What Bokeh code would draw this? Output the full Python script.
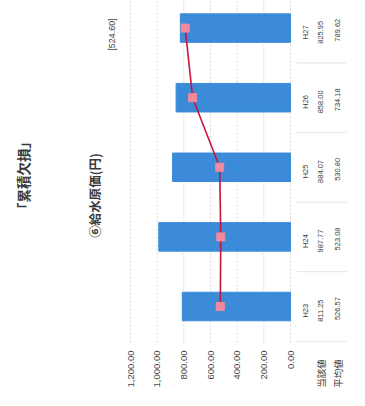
import math
import numpy as np
from bokeh.plotting import figure
from bokeh.models import Range1d
from bokeh.core.properties import value
from bokeh.embed import file_html
from bokeh.resources import INLINE

categories = ["H23", "H24", "H25", "H26", "H27"]
own_values = [811.25, 987.77, 884.07, 858.00, 825.95]   # 当該値
avg_values = [526.57, 523.08, 530.80, 734.18, 789.62]   # 平均値
value_ticks = [0, 200, 400, 600, 800, 1000, 1200]
row_headers = ["当該値", "平均値"]
main_title = "「累積欠損」"
chart_title = "⑥給水原価(円)"
reference_note = "[524.60]"

W, H = 365, 406
# layout: value 0 at pixel x=290, 1200 at x=130; category 0 at pixel y=306, 69.6 px apart
X0, KX = 290.0, 160.0 / 1200.0
Y0, KY = 306.0, 69.6


def vx(px):
    return (X0 - px) / KX


def vy(py):
    return (Y0 - py) / KY


pos = np.arange(len(categories))

p = figure(width=W, height=H, output_backend="svg", toolbar_location=None,
           x_range=Range1d(vx(0), vx(W)), y_range=Range1d(vy(H), vy(0)),
           min_border=0, x_axis_location=None, y_axis_location=None,
           outline_line_color=None,
           background_fill_color="white", border_fill_color="white")
p.grid.visible = False

ROT = math.pi / 2
DARK = "#3a3a3a"

# faint value grid
p.segment(x0=value_ticks, x1=value_ticks, y0=vy(0), y1=vy(343),
          line_color="#d6d6d6", line_width=1, line_dash="2 2")

BAR = "#3b8bd9"
p.hbar(y=pos, left=0, right=own_values, height=0.41, fill_color=BAR, line_color=BAR)
p.line(x=avg_values, y=pos, line_color="#c8143c", line_width=1.6)
p.scatter(x=avg_values, y=pos, marker="square", size=8,
          fill_color="#f28a9e", line_color="#f28a9e")

# value tick labels (rotated, hanging below the plot area)
p.text(x=value_ticks, y=[vy(350)] * len(value_ticks),
       text=[f"{t:,.2f}" for t in value_ticks], angle=ROT,
       text_align="right", text_baseline="middle",
       text_font=value("Liberation Sans"), text_font_size=value("9.5px"),
       text_color="#444444")

# data table (rotated: to the right of the plot area)
cell_font = dict(angle=ROT, text_align="center", text_baseline="middle",
                 text_font=value("Liberation Sans"),
                 text_font_size=value("7.5px"), text_color=DARK)
p.text(x=[vx(305)] * len(pos), y=pos - 0.06, text=categories, **cell_font)
p.text(x=[vx(320)] * len(pos), y=pos - 0.06,
       text=[f"{v:.2f}" for v in own_values], **cell_font)
p.text(x=[vx(337)] * len(pos), y=pos - 0.03,
       text=[f"{v:.2f}" for v in avg_values], **cell_font)

# table separators (faint)
p.segment(x0=[vx(296)] * (len(pos) + 1), x1=[vx(346)] * (len(pos) + 1),
          y0=np.arange(len(pos) + 1) - 0.5, y1=np.arange(len(pos) + 1) - 0.5,
          line_color="#e4e4e4", line_width=1)

p.text(x=[vx(320), vx(337)], y=[vy(373)] * 2, text=row_headers, angle=ROT,
       text_align="center", text_baseline="middle",
       text_font=value("Noto Sans CJK JP"), text_font_size=value("9.5px"),
       text_color=DARK)

p.text(x=[vx(22)], y=[vy(175)], text=[main_title], angle=ROT,
       text_align="center", text_baseline="middle",
       text_font=value("Noto Sans CJK JP"), text_font_size=value("13.5px"),
       text_font_style="bold", text_color=DARK)
p.text(x=[vx(94)], y=[vy(195)], text=[chart_title], angle=ROT,
       text_align="center", text_baseline="middle",
       text_font=value("Noto Sans CJK JP"), text_font_size=value("12.5px"),
       text_font_style="bold", text_color=DARK)
p.text(x=[vx(111)], y=[vy(34)], text=[reference_note], angle=ROT,
       text_align="center", text_baseline="middle",
       text_font=value("Liberation Sans"), text_font_size=value("9px"),
       text_color="#444444")

open("out.html", "w").write(file_html(p, INLINE))
